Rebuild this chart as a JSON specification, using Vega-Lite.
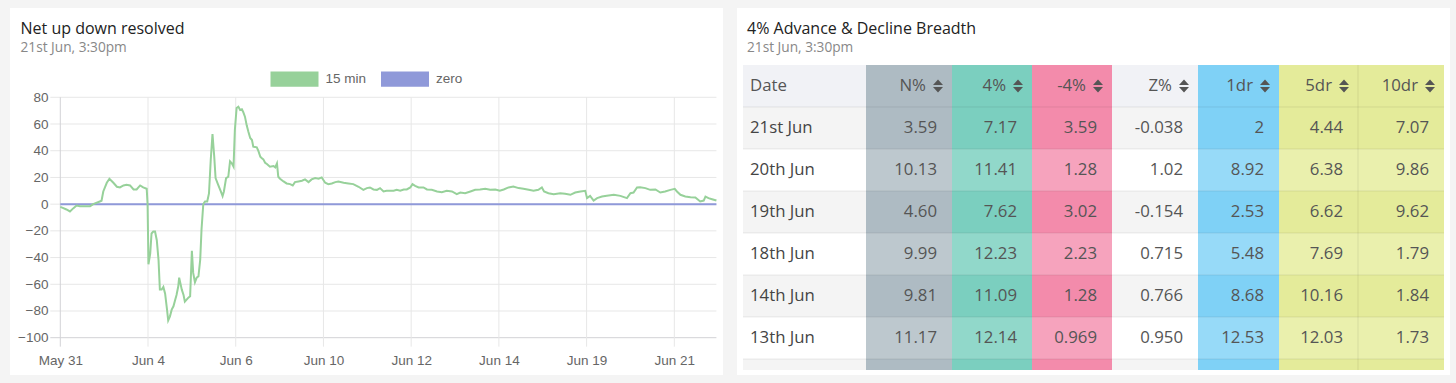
{
  "$schema": "https://vega.github.io/schema/vega-lite/v6.json",
  "background": "#f4f4f4",
  "padding": {"left": 10, "top": 8, "right": 6, "bottom": 8},
  "spacing": 14,
  "bounds": "flush",
  "config": {
    "view": {"stroke": null},
    "text": {"font": "Open Sans", "fontSize": 16.8, "color": "#555", "baseline": "middle"},
    "rect": {"strokeWidth": 0},
    "rule": {"color": "#000", "opacity": 0.08, "strokeWidth": 1},
    "point": {"shape": "M-3.8,-0.2L-1.8,-0.2L-2.8,-1.3ZM-3.8,0.2L-1.8,0.2L-2.8,1.3Z", "size": 100, "filled": true, "color": "#555", "opacity": 1, "strokeWidth": 0},
    "title": {"font": "Open Sans", "fontSize": 16, "fontWeight": "normal", "color": "#222", "anchor": "start", "frame": "group", "subtitleFont": "Open Sans", "subtitleFontSize": 13.7, "subtitleColor": "#888", "subtitlePadding": 4, "offset": -47}
  },
  "datasets": {
    "line": [
      {"t": 0, "v": -2, "s": "15 min"}, {"t": 0.07, "v": -3, "s": "15 min"}, {"t": 0.14, "v": -4, "s": "15 min"}, {"t": 0.22, "v": -5.5, "s": "15 min"}, {"t": 0.30, "v": -3, "s": "15 min"}, {"t": 0.37, "v": -1, "s": "15 min"}, {"t": 0.45, "v": -1.5, "s": "15 min"}, {"t": 0.56, "v": -1.5, "s": "15 min"}, {"t": 0.68, "v": -1.5, "s": "15 min"}, {"t": 0.75, "v": 0, "s": "15 min"}, {"t": 0.90, "v": 2, "s": "15 min"}, {"t": 0.94, "v": 2.5, "s": "15 min"}, {"t": 0.98, "v": 9.5, "s": "15 min"}, {"t": 1.06, "v": 16, "s": "15 min"}, {"t": 1.12, "v": 19, "s": "15 min"}, {"t": 1.21, "v": 16, "s": "15 min"}, {"t": 1.29, "v": 13, "s": "15 min"}, {"t": 1.36, "v": 12.5, "s": "15 min"}, {"t": 1.44, "v": 14, "s": "15 min"}, {"t": 1.51, "v": 14.5, "s": "15 min"}, {"t": 1.59, "v": 14, "s": "15 min"}, {"t": 1.67, "v": 11, "s": "15 min"}, {"t": 1.74, "v": 11, "s": "15 min"}, {"t": 1.82, "v": 14, "s": "15 min"}, {"t": 1.89, "v": 12.5, "s": "15 min"}, {"t": 1.97, "v": 11.5, "s": "15 min"}, {"t": 1.99, "v": 0, "s": "15 min"}, {"t": 2.01, "v": -45, "s": "15 min"}, {"t": 2.05, "v": -37, "s": "15 min"}, {"t": 2.08, "v": -22, "s": "15 min"}, {"t": 2.12, "v": -20.5, "s": "15 min"}, {"t": 2.16, "v": -20.5, "s": "15 min"}, {"t": 2.20, "v": -27, "s": "15 min"}, {"t": 2.24, "v": -42, "s": "15 min"}, {"t": 2.27, "v": -64, "s": "15 min"}, {"t": 2.31, "v": -64, "s": "15 min"}, {"t": 2.35, "v": -62, "s": "15 min"}, {"t": 2.39, "v": -67, "s": "15 min"}, {"t": 2.43, "v": -78, "s": "15 min"}, {"t": 2.46, "v": -87, "s": "15 min"}, {"t": 2.50, "v": -84, "s": "15 min"}, {"t": 2.54, "v": -79, "s": "15 min"}, {"t": 2.58, "v": -76.5, "s": "15 min"}, {"t": 2.62, "v": -71.5, "s": "15 min"}, {"t": 2.65, "v": -68, "s": "15 min"}, {"t": 2.69, "v": -61.5, "s": "15 min"}, {"t": 2.71, "v": -55, "s": "15 min"}, {"t": 2.77, "v": -64, "s": "15 min"}, {"t": 2.81, "v": -68, "s": "15 min"}, {"t": 2.84, "v": -73, "s": "15 min"}, {"t": 2.88, "v": -71.5, "s": "15 min"}, {"t": 2.92, "v": -70, "s": "15 min"}, {"t": 2.96, "v": -69, "s": "15 min"}, {"t": 3.00, "v": -35, "s": "15 min"}, {"t": 3.03, "v": -51.5, "s": "15 min"}, {"t": 3.07, "v": -58.5, "s": "15 min"}, {"t": 3.11, "v": -55, "s": "15 min"}, {"t": 3.15, "v": -54, "s": "15 min"}, {"t": 3.19, "v": -41.5, "s": "15 min"}, {"t": 3.22, "v": -19, "s": "15 min"}, {"t": 3.26, "v": 0, "s": "15 min"}, {"t": 3.30, "v": 2, "s": "15 min"}, {"t": 3.35, "v": 2, "s": "15 min"}, {"t": 3.39, "v": 8, "s": "15 min"}, {"t": 3.43, "v": 33, "s": "15 min"}, {"t": 3.47, "v": 52.5, "s": "15 min"}, {"t": 3.51, "v": 35.5, "s": "15 min"}, {"t": 3.54, "v": 19.5, "s": "15 min"}, {"t": 3.60, "v": 14.5, "s": "15 min"}, {"t": 3.66, "v": 9.5, "s": "15 min"}, {"t": 3.70, "v": 6, "s": "15 min"}, {"t": 3.73, "v": 9.5, "s": "15 min"}, {"t": 3.78, "v": 19.5, "s": "15 min"}, {"t": 3.83, "v": 20.5, "s": "15 min"}, {"t": 3.87, "v": 32, "s": "15 min"}, {"t": 3.91, "v": 30.5, "s": "15 min"}, {"t": 3.95, "v": 28, "s": "15 min"}, {"t": 3.98, "v": 55.5, "s": "15 min"}, {"t": 4.02, "v": 72, "s": "15 min"}, {"t": 4.06, "v": 73, "s": "15 min"}, {"t": 4.10, "v": 70.5, "s": "15 min"}, {"t": 4.14, "v": 71, "s": "15 min"}, {"t": 4.17, "v": 69, "s": "15 min"}, {"t": 4.21, "v": 65.5, "s": "15 min"}, {"t": 4.25, "v": 59, "s": "15 min"}, {"t": 4.29, "v": 54, "s": "15 min"}, {"t": 4.33, "v": 49.5, "s": "15 min"}, {"t": 4.37, "v": 48, "s": "15 min"}, {"t": 4.40, "v": 43, "s": "15 min"}, {"t": 4.48, "v": 42.5, "s": "15 min"}, {"t": 4.52, "v": 39.5, "s": "15 min"}, {"t": 4.56, "v": 35.5, "s": "15 min"}, {"t": 4.59, "v": 34.5, "s": "15 min"}, {"t": 4.63, "v": 33.5, "s": "15 min"}, {"t": 4.67, "v": 31, "s": "15 min"}, {"t": 4.71, "v": 30, "s": "15 min"}, {"t": 4.78, "v": 28, "s": "15 min"}, {"t": 4.86, "v": 28.5, "s": "15 min"}, {"t": 4.90, "v": 27.5, "s": "15 min"}, {"t": 4.94, "v": 30.5, "s": "15 min"}, {"t": 4.97, "v": 20.5, "s": "15 min"}, {"t": 5.01, "v": 19, "s": "15 min"}, {"t": 5.09, "v": 17, "s": "15 min"}, {"t": 5.16, "v": 15.5, "s": "15 min"}, {"t": 5.24, "v": 15, "s": "15 min"}, {"t": 5.30, "v": 14, "s": "15 min"}, {"t": 5.35, "v": 16.5, "s": "15 min"}, {"t": 5.43, "v": 17, "s": "15 min"}, {"t": 5.51, "v": 17.5, "s": "15 min"}, {"t": 5.58, "v": 18.5, "s": "15 min"}, {"t": 5.66, "v": 16.5, "s": "15 min"}, {"t": 5.73, "v": 18.5, "s": "15 min"}, {"t": 5.81, "v": 19.5, "s": "15 min"}, {"t": 5.89, "v": 19, "s": "15 min"}, {"t": 5.96, "v": 20, "s": "15 min"}, {"t": 6.04, "v": 16, "s": "15 min"}, {"t": 6.11, "v": 15, "s": "15 min"}, {"t": 6.19, "v": 15.5, "s": "15 min"}, {"t": 6.27, "v": 16.5, "s": "15 min"}, {"t": 6.34, "v": 17, "s": "15 min"}, {"t": 6.46, "v": 16, "s": "15 min"}, {"t": 6.57, "v": 15.5, "s": "15 min"}, {"t": 6.68, "v": 15, "s": "15 min"}, {"t": 6.80, "v": 13, "s": "15 min"}, {"t": 6.91, "v": 10.7, "s": "15 min"}, {"t": 6.99, "v": 12, "s": "15 min"}, {"t": 7.06, "v": 12.5, "s": "15 min"}, {"t": 7.14, "v": 11, "s": "15 min"}, {"t": 7.22, "v": 10.7, "s": "15 min"}, {"t": 7.29, "v": 12, "s": "15 min"}, {"t": 7.37, "v": 9.5, "s": "15 min"}, {"t": 7.44, "v": 10, "s": "15 min"}, {"t": 7.52, "v": 10, "s": "15 min"}, {"t": 7.60, "v": 10, "s": "15 min"}, {"t": 7.67, "v": 10.7, "s": "15 min"}, {"t": 7.75, "v": 10, "s": "15 min"}, {"t": 7.83, "v": 11, "s": "15 min"}, {"t": 7.90, "v": 11, "s": "15 min"}, {"t": 7.98, "v": 12.5, "s": "15 min"}, {"t": 8.03, "v": 15, "s": "15 min"}, {"t": 8.09, "v": 13.7, "s": "15 min"}, {"t": 8.17, "v": 12.5, "s": "15 min"}, {"t": 8.28, "v": 12.5, "s": "15 min"}, {"t": 8.36, "v": 11, "s": "15 min"}, {"t": 8.47, "v": 10.7, "s": "15 min"}, {"t": 8.59, "v": 9.5, "s": "15 min"}, {"t": 8.70, "v": 9, "s": "15 min"}, {"t": 8.81, "v": 10, "s": "15 min"}, {"t": 8.93, "v": 9.5, "s": "15 min"}, {"t": 9.04, "v": 7.5, "s": "15 min"}, {"t": 9.12, "v": 8.7, "s": "15 min"}, {"t": 9.23, "v": 8.2, "s": "15 min"}, {"t": 9.35, "v": 9.5, "s": "15 min"}, {"t": 9.46, "v": 10.7, "s": "15 min"}, {"t": 9.57, "v": 11, "s": "15 min"}, {"t": 9.69, "v": 11.5, "s": "15 min"}, {"t": 9.80, "v": 10.7, "s": "15 min"}, {"t": 9.92, "v": 11, "s": "15 min"}, {"t": 10.02, "v": 10, "s": "15 min"}, {"t": 10.11, "v": 11, "s": "15 min"}, {"t": 10.22, "v": 12.5, "s": "15 min"}, {"t": 10.33, "v": 13.2, "s": "15 min"}, {"t": 10.45, "v": 12, "s": "15 min"}, {"t": 10.56, "v": 11.5, "s": "15 min"}, {"t": 10.68, "v": 10.7, "s": "15 min"}, {"t": 10.79, "v": 10, "s": "15 min"}, {"t": 10.90, "v": 10.7, "s": "15 min"}, {"t": 10.98, "v": 12.5, "s": "15 min"}, {"t": 11.03, "v": 9.5, "s": "15 min"}, {"t": 11.13, "v": 8.2, "s": "15 min"}, {"t": 11.25, "v": 7.5, "s": "15 min"}, {"t": 11.40, "v": 8.2, "s": "15 min"}, {"t": 11.51, "v": 7.7, "s": "15 min"}, {"t": 11.63, "v": 7, "s": "15 min"}, {"t": 11.74, "v": 8.7, "s": "15 min"}, {"t": 11.86, "v": 9.5, "s": "15 min"}, {"t": 11.97, "v": 10, "s": "15 min"}, {"t": 12.01, "v": 4.5, "s": "15 min"}, {"t": 12.08, "v": 6.2, "s": "15 min"}, {"t": 12.16, "v": 2.7, "s": "15 min"}, {"t": 12.24, "v": 4.5, "s": "15 min"}, {"t": 12.35, "v": 5.7, "s": "15 min"}, {"t": 12.46, "v": 6.2, "s": "15 min"}, {"t": 12.62, "v": 7, "s": "15 min"}, {"t": 12.77, "v": 6.2, "s": "15 min"}, {"t": 12.92, "v": 4.5, "s": "15 min"}, {"t": 13.00, "v": 8.2, "s": "15 min"}, {"t": 13.07, "v": 8.7, "s": "15 min"}, {"t": 13.15, "v": 12.5, "s": "15 min"}, {"t": 13.22, "v": 12.7, "s": "15 min"}, {"t": 13.34, "v": 12, "s": "15 min"}, {"t": 13.45, "v": 10.7, "s": "15 min"}, {"t": 13.57, "v": 11, "s": "15 min"}, {"t": 13.68, "v": 8.7, "s": "15 min"}, {"t": 13.79, "v": 9.5, "s": "15 min"}, {"t": 13.91, "v": 10.7, "s": "15 min"}, {"t": 14.01, "v": 11.5, "s": "15 min"}, {"t": 14.06, "v": 9.5, "s": "15 min"}, {"t": 14.14, "v": 7, "s": "15 min"}, {"t": 14.25, "v": 5.7, "s": "15 min"}, {"t": 14.37, "v": 5.2, "s": "15 min"}, {"t": 14.48, "v": 5, "s": "15 min"}, {"t": 14.59, "v": 2, "s": "15 min"}, {"t": 14.67, "v": 2.7, "s": "15 min"}, {"t": 14.71, "v": 5.7, "s": "15 min"}, {"t": 14.78, "v": 4.5, "s": "15 min"}, {"t": 14.86, "v": 3.7, "s": "15 min"}, {"t": 14.96, "v": 2.7, "s": "15 min"}
    ],
    "zero": [{"t": 0, "v": 0, "s": "zero"}, {"t": 14.96, "v": 0, "s": "zero"}],
    "hgrid": [{"g": -100}, {"g": -80}, {"g": -60}, {"g": -40}, {"g": -20}, {"g": 0}, {"g": 20}, {"g": 40}, {"g": 60}, {"g": 80}],
    "vgrid": [{"g": 0}, {"g": 2}, {"g": 4}, {"g": 6}, {"g": 8}, {"g": 10}, {"g": 12}, {"g": 14}],
    "table": [
      {"date": "21st Jun", "n": "3.59", "p4": "7.17", "m4": "3.59", "z": "-0.038", "d1": "2", "d5": "4.44", "d10": "7.07"},
      {"date": "20th Jun", "n": "10.13", "p4": "11.41", "m4": "1.28", "z": "1.02", "d1": "8.92", "d5": "6.38", "d10": "9.86"},
      {"date": "19th Jun", "n": "4.60", "p4": "7.62", "m4": "3.02", "z": "-0.154", "d1": "2.53", "d5": "6.62", "d10": "9.62"},
      {"date": "18th Jun", "n": "9.99", "p4": "12.23", "m4": "2.23", "z": "0.715", "d1": "5.48", "d5": "7.69", "d10": "1.79"},
      {"date": "14th Jun", "n": "9.81", "p4": "11.09", "m4": "1.28", "z": "0.766", "d1": "8.68", "d5": "10.16", "d10": "1.84"},
      {"date": "13th Jun", "n": "11.17", "p4": "12.14", "m4": "0.969", "z": "0.950", "d1": "12.53", "d5": "12.03", "d10": "1.73"}
    ]
  },
  "hconcat": [
    {
      "width": 713,
      "height": 367,
      "view": {"fill": "white", "stroke": null},
      "title": {"text": "Net up down resolved", "subtitle": "21st Jun, 3:30pm", "dx": 10.5},
      "layer": [
        {
          "data": {"name": "hgrid"},
          "mark": {"type": "rule", "opacity": 1},
          "encoding": {
            "y": {"field": "g", "type": "quantitative", "scale": {"domain": [-127.93, 146.86], "nice": false, "zero": false},
              "axis": {"values": [-100, -80, -60, -40, -20, 0, 20, 40, 60, 80], "grid": false, "ticks": false, "tickSize": 0, "domain": false, "labelPadding": 12, "offset": -50, "title": null, "labelFont": "Liberation Sans", "labelFontSize": 13.5, "labelColor": "#666", "labelOverlap": false, "labelFlush": false}},
            "x": {"datum": -0.228, "type": "quantitative", "scale": {"domain": [-1.147, 15.11], "nice": false, "zero": false},
              "axis": {"values": [0, 2, 4, 6, 8, 10, 12, 14], "labelExpr": "['May 31','Jun 4','Jun 6','Jun 10','Jun 12','Jun 14','Jun 19','Jun 21'][round(datum.value/2)]", "grid": false, "ticks": false, "tickSize": 0, "domain": false, "labelPadding": 16, "offset": -37.3, "title": null, "labelFont": "Liberation Sans", "labelFontSize": 13.5, "labelColor": "#666", "labelOverlap": false, "labelFlush": false}},
            "x2": {"datum": 14.96},
            "color": {"condition": {"test": "datum.g == -100", "value": "#d2d2d6"}, "value": "#e7e7e7"}
          }
        },
        {
          "data": {"name": "vgrid"},
          "mark": {"type": "rule", "opacity": 1},
          "encoding": {
            "x": {"field": "g", "type": "quantitative"},
            "y": {"datum": -106.7, "type": "quantitative"},
            "y2": {"datum": 80},
            "color": {"condition": {"test": "datum.g == 0", "value": "#d2d2d6"}, "value": "#e7e7e7"}
          }
        },
        {
          "data": {"name": "zero"},
          "mark": {"type": "line", "strokeWidth": 2},
          "encoding": {
            "x": {"field": "t", "type": "quantitative"},
            "y": {"field": "v", "type": "quantitative"},
            "color": {"field": "s", "type": "nominal",
              "scale": {"domain": ["15 min", "zero"], "range": ["#97d19a", "#8f99d9"]},
              "legend": {"title": null, "orient": "none", "legendX": 260.5, "legendY": 47, "direction": "horizontal",
                "symbolType": "M-1,-0.32H1V0.32H-1Z", "symbolSize": 2304, "symbolStrokeWidth": 0,
                "labelFont": "Liberation Sans", "labelFontSize": 13.5, "labelColor": "#666", "labelOffset": 7, "columnPadding": 14.5,
                "encode": {"symbols": {"update": {"fill": {"scale": "color", "field": "value"}, "strokeWidth": {"value": 0}, "opacity": {"value": 1}}}}}}
          }
        },
        {
          "data": {"name": "line"},
          "mark": {"type": "line", "strokeWidth": 2},
          "encoding": {
            "x": {"field": "t", "type": "quantitative"},
            "y": {"field": "v", "type": "quantitative"},
            "color": {"field": "s", "type": "nominal"}
          }
        }
      ]
    },
    {
      "title": {"text": "4% Advance & Decline Breadth", "subtitle": "21st Jun, 3:30pm", "dx": 10},
      "data": {"name": "table"},
      "transform": [
        {"window": [{"op": "row_number", "as": "rn"}]},
        {"calculate": "datum.rn + 1", "as": "r1"},
        {"calculate": "datum.rn + 0.5", "as": "rc"}
      ],
      "spacing": 0,
      "bounds": "flush",
      "hconcat": [
        {"width": 6, "height": 367, "view": {"fill": "white"}, "mark": {"type": "text", "text": ""}},
        {"width": 123, "height": 367, "view": {"fill": "white"},
          "layer": [
            {"transform": [{"filter": "datum.rn == 1"}], "mark": {"type": "rect", "color": "#f1f2f6"}, "encoding": {"x": {"value": 0}, "x2": {"value": "width"}, "y": {"datum": 0, "type": "quantitative", "scale": {"domain": [-1.357, 7.381], "reverse": true, "nice": false, "zero": false}, "axis": null}, "y2": {"datum": 1}}},
            {"mark": {"type": "rect"}, "encoding": {"x": {"value": 0}, "x2": {"value": "width"}, "y": {"field": "rn", "type": "quantitative", "axis": null}, "y2": {"field": "r1"}, "color": {"condition": {"test": "datum.rn % 2 == 1", "value": "#f4f4f4"}, "value": "#ffffff"}}},
            {"transform": [{"filter": "datum.rn == 1"}], "mark": {"type": "rect", "color": "#f4f4f4"}, "encoding": {"x": {"value": 0}, "x2": {"value": "width"}, "y": {"datum": 7, "type": "quantitative"}, "y2": {"datum": 7.262}}},
            {"mark": {"type": "rule"}, "encoding": {"x": {"value": 0}, "x2": {"value": "width"}, "y": {"field": "rn", "type": "quantitative"}}},
            {"transform": [{"filter": "datum.rn == 1"}], "mark": {"type": "rule"}, "encoding": {"x": {"value": 0}, "x2": {"value": "width"}, "y": {"datum": 7, "type": "quantitative"}}},
            {"transform": [{"filter": "datum.rn == 1"}], "mark": {"type": "text", "text": "Date", "align": "left", "dx": 7}, "encoding": {"x": {"value": 0}, "y": {"datum": 0.5, "type": "quantitative"}}},
            {"mark": {"type": "text", "align": "left", "dx": 7, "color": "#444"}, "encoding": {"x": {"value": 0}, "y": {"field": "rc", "type": "quantitative"}, "text": {"field": "date"}}}
          ]
        },
        {"width": 86, "height": 367, "view": {"fill": "white"},
          "layer": [
            {"transform": [{"filter": "datum.rn == 1"}], "mark": {"type": "rect", "color": "#aebbc3"}, "encoding": {"x": {"value": 0}, "x2": {"value": "width"}, "y": {"datum": 0, "type": "quantitative", "scale": {"domain": [-1.357, 7.381], "reverse": true, "nice": false, "zero": false}, "axis": null}, "y2": {"datum": 1}}},
            {"mark": {"type": "rect"}, "encoding": {"x": {"value": 0}, "x2": {"value": "width"}, "y": {"field": "rn", "type": "quantitative", "axis": null}, "y2": {"field": "r1"}, "color": {"condition": {"test": "datum.rn % 2 == 1", "value": "#aebbc3"}, "value": "#bdc8ce"}}},
            {"transform": [{"filter": "datum.rn == 1"}], "mark": {"type": "rect", "color": "#aebbc3"}, "encoding": {"x": {"value": 0}, "x2": {"value": "width"}, "y": {"datum": 7, "type": "quantitative"}, "y2": {"datum": 7.262}}},
            {"mark": {"type": "rule"}, "encoding": {"x": {"value": 0}, "x2": {"value": "width"}, "y": {"field": "rn", "type": "quantitative"}}},
            {"transform": [{"filter": "datum.rn == 1"}], "mark": {"type": "rule"}, "encoding": {"x": {"value": 0}, "x2": {"value": "width"}, "y": {"datum": 7, "type": "quantitative"}}},
            {"transform": [{"filter": "datum.rn == 1"}], "mark": {"type": "text", "text": "N%", "align": "right", "dx": -26}, "encoding": {"x": {"value": "width"}, "y": {"datum": 0.5, "type": "quantitative"}}},
            {"transform": [{"filter": "datum.rn == 1"}], "mark": {"type": "point"}, "encoding": {"x": {"value": "width"}, "y": {"datum": 0.5, "type": "quantitative"}}},
            {"mark": {"type": "text", "align": "right", "dx": -15}, "encoding": {"x": {"value": "width"}, "y": {"field": "rc", "type": "quantitative"}, "text": {"field": "n"}}}
          ]
        },
        {"width": 80, "height": 367, "view": {"fill": "white"},
          "layer": [
            {"transform": [{"filter": "datum.rn == 1"}], "mark": {"type": "rect", "color": "#7bcfbf"}, "encoding": {"x": {"value": 0}, "x2": {"value": "width"}, "y": {"datum": 0, "type": "quantitative", "scale": {"domain": [-1.357, 7.381], "reverse": true, "nice": false, "zero": false}, "axis": null}, "y2": {"datum": 1}}},
            {"mark": {"type": "rect"}, "encoding": {"x": {"value": 0}, "x2": {"value": "width"}, "y": {"field": "rn", "type": "quantitative", "axis": null}, "y2": {"field": "r1"}, "color": {"condition": {"test": "datum.rn % 2 == 1", "value": "#7bcfbf"}, "value": "#91d8ca"}}},
            {"transform": [{"filter": "datum.rn == 1"}], "mark": {"type": "rect", "color": "#7bcfbf"}, "encoding": {"x": {"value": 0}, "x2": {"value": "width"}, "y": {"datum": 7, "type": "quantitative"}, "y2": {"datum": 7.262}}},
            {"mark": {"type": "rule"}, "encoding": {"x": {"value": 0}, "x2": {"value": "width"}, "y": {"field": "rn", "type": "quantitative"}}},
            {"transform": [{"filter": "datum.rn == 1"}], "mark": {"type": "rule"}, "encoding": {"x": {"value": 0}, "x2": {"value": "width"}, "y": {"datum": 7, "type": "quantitative"}}},
            {"transform": [{"filter": "datum.rn == 1"}], "mark": {"type": "text", "text": "4%", "align": "right", "dx": -26}, "encoding": {"x": {"value": "width"}, "y": {"datum": 0.5, "type": "quantitative"}}},
            {"transform": [{"filter": "datum.rn == 1"}], "mark": {"type": "point"}, "encoding": {"x": {"value": "width"}, "y": {"datum": 0.5, "type": "quantitative"}}},
            {"mark": {"type": "text", "align": "right", "dx": -15}, "encoding": {"x": {"value": "width"}, "y": {"field": "rc", "type": "quantitative"}, "text": {"field": "p4"}}}
          ]
        },
        {"width": 80, "height": 367, "view": {"fill": "white"},
          "layer": [
            {"transform": [{"filter": "datum.rn == 1"}], "mark": {"type": "rect", "color": "#f38bab"}, "encoding": {"x": {"value": 0}, "x2": {"value": "width"}, "y": {"datum": 0, "type": "quantitative", "scale": {"domain": [-1.357, 7.381], "reverse": true, "nice": false, "zero": false}, "axis": null}, "y2": {"datum": 1}}},
            {"mark": {"type": "rect"}, "encoding": {"x": {"value": 0}, "x2": {"value": "width"}, "y": {"field": "rn", "type": "quantitative", "axis": null}, "y2": {"field": "r1"}, "color": {"condition": {"test": "datum.rn % 2 == 1", "value": "#f38bab"}, "value": "#f6a3bd"}}},
            {"transform": [{"filter": "datum.rn == 1"}], "mark": {"type": "rect", "color": "#f38bab"}, "encoding": {"x": {"value": 0}, "x2": {"value": "width"}, "y": {"datum": 7, "type": "quantitative"}, "y2": {"datum": 7.262}}},
            {"mark": {"type": "rule"}, "encoding": {"x": {"value": 0}, "x2": {"value": "width"}, "y": {"field": "rn", "type": "quantitative"}}},
            {"transform": [{"filter": "datum.rn == 1"}], "mark": {"type": "rule"}, "encoding": {"x": {"value": 0}, "x2": {"value": "width"}, "y": {"datum": 7, "type": "quantitative"}}},
            {"transform": [{"filter": "datum.rn == 1"}], "mark": {"type": "text", "text": "-4%", "align": "right", "dx": -26}, "encoding": {"x": {"value": "width"}, "y": {"datum": 0.5, "type": "quantitative"}}},
            {"transform": [{"filter": "datum.rn == 1"}], "mark": {"type": "point"}, "encoding": {"x": {"value": "width"}, "y": {"datum": 0.5, "type": "quantitative"}}},
            {"mark": {"type": "text", "align": "right", "dx": -15}, "encoding": {"x": {"value": "width"}, "y": {"field": "rc", "type": "quantitative"}, "text": {"field": "m4"}}}
          ]
        },
        {"width": 86, "height": 367, "view": {"fill": "white"},
          "layer": [
            {"transform": [{"filter": "datum.rn == 1"}], "mark": {"type": "rect", "color": "#f1f2f6"}, "encoding": {"x": {"value": 0}, "x2": {"value": "width"}, "y": {"datum": 0, "type": "quantitative", "scale": {"domain": [-1.357, 7.381], "reverse": true, "nice": false, "zero": false}, "axis": null}, "y2": {"datum": 1}}},
            {"mark": {"type": "rect"}, "encoding": {"x": {"value": 0}, "x2": {"value": "width"}, "y": {"field": "rn", "type": "quantitative", "axis": null}, "y2": {"field": "r1"}, "color": {"condition": {"test": "datum.rn % 2 == 1", "value": "#f4f4f4"}, "value": "#ffffff"}}},
            {"transform": [{"filter": "datum.rn == 1"}], "mark": {"type": "rect", "color": "#f4f4f4"}, "encoding": {"x": {"value": 0}, "x2": {"value": "width"}, "y": {"datum": 7, "type": "quantitative"}, "y2": {"datum": 7.262}}},
            {"mark": {"type": "rule"}, "encoding": {"x": {"value": 0}, "x2": {"value": "width"}, "y": {"field": "rn", "type": "quantitative"}}},
            {"transform": [{"filter": "datum.rn == 1"}], "mark": {"type": "rule"}, "encoding": {"x": {"value": 0}, "x2": {"value": "width"}, "y": {"datum": 7, "type": "quantitative"}}},
            {"transform": [{"filter": "datum.rn == 1"}], "mark": {"type": "text", "text": "Z%", "align": "right", "dx": -26}, "encoding": {"x": {"value": "width"}, "y": {"datum": 0.5, "type": "quantitative"}}},
            {"transform": [{"filter": "datum.rn == 1"}], "mark": {"type": "point"}, "encoding": {"x": {"value": "width"}, "y": {"datum": 0.5, "type": "quantitative"}}},
            {"mark": {"type": "text", "align": "right", "dx": -15}, "encoding": {"x": {"value": "width"}, "y": {"field": "rc", "type": "quantitative"}, "text": {"field": "z"}}}
          ]
        },
        {"width": 81, "height": 367, "view": {"fill": "white"},
          "layer": [
            {"transform": [{"filter": "datum.rn == 1"}], "mark": {"type": "rect", "color": "#7fd1f6"}, "encoding": {"x": {"value": 0}, "x2": {"value": "width"}, "y": {"datum": 0, "type": "quantitative", "scale": {"domain": [-1.357, 7.381], "reverse": true, "nice": false, "zero": false}, "axis": null}, "y2": {"datum": 1}}},
            {"mark": {"type": "rect"}, "encoding": {"x": {"value": 0}, "x2": {"value": "width"}, "y": {"field": "rn", "type": "quantitative", "axis": null}, "y2": {"field": "r1"}, "color": {"condition": {"test": "datum.rn % 2 == 1", "value": "#7fd1f6"}, "value": "#97daf8"}}},
            {"transform": [{"filter": "datum.rn == 1"}], "mark": {"type": "rect", "color": "#7fd1f6"}, "encoding": {"x": {"value": 0}, "x2": {"value": "width"}, "y": {"datum": 7, "type": "quantitative"}, "y2": {"datum": 7.262}}},
            {"mark": {"type": "rule"}, "encoding": {"x": {"value": 0}, "x2": {"value": "width"}, "y": {"field": "rn", "type": "quantitative"}}},
            {"transform": [{"filter": "datum.rn == 1"}], "mark": {"type": "rule"}, "encoding": {"x": {"value": 0}, "x2": {"value": "width"}, "y": {"datum": 7, "type": "quantitative"}}},
            {"transform": [{"filter": "datum.rn == 1"}], "mark": {"type": "text", "text": "1dr", "align": "right", "dx": -26}, "encoding": {"x": {"value": "width"}, "y": {"datum": 0.5, "type": "quantitative"}}},
            {"transform": [{"filter": "datum.rn == 1"}], "mark": {"type": "point"}, "encoding": {"x": {"value": "width"}, "y": {"datum": 0.5, "type": "quantitative"}}},
            {"mark": {"type": "text", "align": "right", "dx": -15}, "encoding": {"x": {"value": "width"}, "y": {"field": "rc", "type": "quantitative"}, "text": {"field": "d1"}}}
          ]
        },
        {"width": 79, "height": 367, "view": {"fill": "white"},
          "layer": [
            {"transform": [{"filter": "datum.rn == 1"}], "mark": {"type": "rect", "color": "#e4eb9a"}, "encoding": {"x": {"value": 0}, "x2": {"value": "width"}, "y": {"datum": 0, "type": "quantitative", "scale": {"domain": [-1.357, 7.381], "reverse": true, "nice": false, "zero": false}, "axis": null}, "y2": {"datum": 1}}},
            {"mark": {"type": "rect"}, "encoding": {"x": {"value": 0}, "x2": {"value": "width"}, "y": {"field": "rn", "type": "quantitative", "axis": null}, "y2": {"field": "r1"}, "color": {"condition": {"test": "datum.rn % 2 == 1", "value": "#e4eb9a"}, "value": "#eaf0ad"}}},
            {"transform": [{"filter": "datum.rn == 1"}], "mark": {"type": "rect", "color": "#e4eb9a"}, "encoding": {"x": {"value": 0}, "x2": {"value": "width"}, "y": {"datum": 7, "type": "quantitative"}, "y2": {"datum": 7.262}}},
            {"mark": {"type": "rule"}, "encoding": {"x": {"value": 0}, "x2": {"value": "width"}, "y": {"field": "rn", "type": "quantitative"}}},
            {"transform": [{"filter": "datum.rn == 1"}], "mark": {"type": "rule"}, "encoding": {"x": {"value": 0}, "x2": {"value": "width"}, "y": {"datum": 7, "type": "quantitative"}}},
            {"transform": [{"filter": "datum.rn == 1"}], "mark": {"type": "text", "text": "5dr", "align": "right", "dx": -26}, "encoding": {"x": {"value": "width"}, "y": {"datum": 0.5, "type": "quantitative"}}},
            {"transform": [{"filter": "datum.rn == 1"}], "mark": {"type": "point"}, "encoding": {"x": {"value": "width"}, "y": {"datum": 0.5, "type": "quantitative"}}},
            {"mark": {"type": "text", "align": "right", "dx": -15}, "encoding": {"x": {"value": "width"}, "y": {"field": "rc", "type": "quantitative"}, "text": {"field": "d5"}}}
          ]
        },
        {"width": 86, "height": 367, "view": {"fill": "white"},
          "layer": [
            {"transform": [{"filter": "datum.rn == 1"}], "mark": {"type": "rect", "color": "#e4eb9a"}, "encoding": {"x": {"value": 0}, "x2": {"value": "width"}, "y": {"datum": 0, "type": "quantitative", "scale": {"domain": [-1.357, 7.381], "reverse": true, "nice": false, "zero": false}, "axis": null}, "y2": {"datum": 1}}},
            {"mark": {"type": "rect"}, "encoding": {"x": {"value": 0}, "x2": {"value": "width"}, "y": {"field": "rn", "type": "quantitative", "axis": null}, "y2": {"field": "r1"}, "color": {"condition": {"test": "datum.rn % 2 == 1", "value": "#e4eb9a"}, "value": "#eaf0ad"}}},
            {"transform": [{"filter": "datum.rn == 1"}], "mark": {"type": "rect", "color": "#e4eb9a"}, "encoding": {"x": {"value": 0}, "x2": {"value": "width"}, "y": {"datum": 7, "type": "quantitative"}, "y2": {"datum": 7.262}}},
            {"mark": {"type": "rule"}, "encoding": {"x": {"value": 0}, "x2": {"value": "width"}, "y": {"field": "rn", "type": "quantitative"}}},
            {"transform": [{"filter": "datum.rn == 1"}], "mark": {"type": "rule"}, "encoding": {"x": {"value": 0}, "x2": {"value": "width"}, "y": {"datum": 7, "type": "quantitative"}}},
            {"transform": [{"filter": "datum.rn == 1"}], "mark": {"type": "rule"}, "encoding": {"x": {"value": 0}, "y": {"datum": 0, "type": "quantitative"}, "y2": {"datum": 7.262}}},
            {"transform": [{"filter": "datum.rn == 1"}], "mark": {"type": "text", "text": "10dr", "align": "right", "dx": -26}, "encoding": {"x": {"value": "width"}, "y": {"datum": 0.5, "type": "quantitative"}}},
            {"transform": [{"filter": "datum.rn == 1"}], "mark": {"type": "point"}, "encoding": {"x": {"value": "width"}, "y": {"datum": 0.5, "type": "quantitative"}}},
            {"mark": {"type": "text", "align": "right", "dx": -15}, "encoding": {"x": {"value": "width"}, "y": {"field": "rc", "type": "quantitative"}, "text": {"field": "d10"}}}
          ]
        },
        {"width": 6, "height": 367, "view": {"fill": "white"}, "mark": {"type": "text", "text": ""}}
      ]
    }
  ]
}
